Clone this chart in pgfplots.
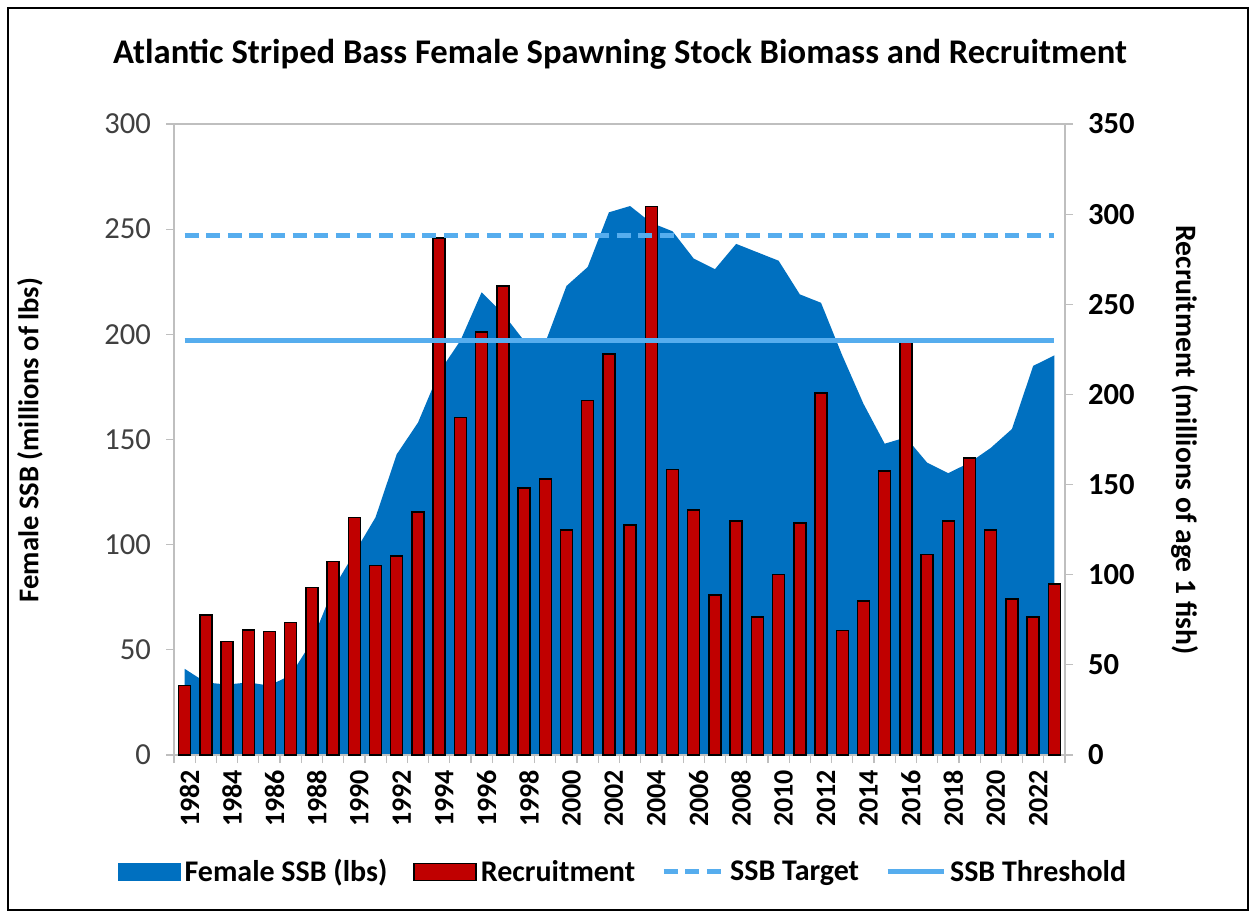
\documentclass[border=0pt]{standalone}
\usepackage{fontspec}
\setmainfont{Carlito}
\usepackage{pgfplots}
\pgfplotsset{compat=1.18}
\usepackage{pgfplotstable}

\definecolor{ssbblue}{RGB}{0,112,192}
\definecolor{recred}{RGB}{192,0,0}
\definecolor{linblue}{RGB}{86,173,238}
\definecolor{axgray}{RGB}{191,191,191}
\definecolor{labgray}{RGB}{64,64,64}

\pgfplotstableread{
year ssb rec
1982 41 38.6
1983 34.5 77.7
1984 33.5 63.0
1985 34.5 69.3
1986 33 68.4
1987 38 73.5
1988 54 93.0
1989 79 107.2
1990 96 131.8
1991 113 105.1
1992 143 110.3
1993 158 134.9
1994 182 286.8
1995 197 187.3
1996 220 234.6
1997 210 260.1
1998 197 148.2
1999 196 153.1
2000 223 124.8
2001 232 196.7
2002 258 222.4
2003 261 127.6
2004 253 304.4
2005 249 158.5
2006 236 135.8
2007 231 88.7
2008 243 129.9
2009 239 76.6
2010 235 100.0
2011 219 128.8
2012 215 200.7
2013 190 69.1
2014 167 85.5
2015 148 157.6
2016 151 229.9
2017 139 111.2
2018 134 129.9
2019 139 164.8
2020 146 124.8
2021 155 86.6
2022 185 76.6
2023 190 94.8
}\data

\pgfplotsset{base/.style={
  at={(87pt,81.5pt)}, anchor=south west, scale only axis,
  width=445.5pt, height=315.5pt,
  xmin=1981.5, xmax=2023.5,
  axis line style={axgray, line width=0.6pt},
  tick style={axgray, line width=0.6pt},
  tick align=outside, major tick length=4pt,
  /pgf/number format/assume math mode=true,
  /pgf/number format/1000 sep={},
}}

\begin{document}
\begin{tikzpicture}
\useasboundingbox (0,0) rectangle (628pt,459pt);
\draw[black, line width=0.6pt] (4pt,4pt) rectangle (624pt,455pt);

% left axis: SSB area
\begin{axis}[base,
  ymin=0, ymax=300, ytick={0,50,...,300}, ytick pos=left,
  xtick={1982,1984,...,2022}, xtick style={draw=none},
  x tick label style={rotate=90, anchor=east, font=\bfseries\fontsize{14}{16}\selectfont, text=black, yshift=-2.5pt},
  y tick label style={font=\fontsize{15.3}{18}\selectfont, text=labgray, xshift=-4pt},
]
\addplot[fill=ssbblue, draw=none] table[x=year, y=ssb] {\data} \closedcycle;
\end{axis}

% right axis: recruitment bars
\begin{axis}[base,
  ymin=0, ymax=350, ytick={0,50,...,350},
  axis y line*=right, axis x line*=bottom,
  xtick={1981.5,1982.5,...,2023.5}, xticklabels={},
  y tick label style={font=\bfseries\fontsize{15.3}{18}\selectfont, text=black, xshift=4pt},
]
\addplot[ybar, bar width=6pt, fill=recred, draw=black, line width=0.7pt] table[x=year, y=rec] {\data};
\end{axis}

% reference lines and legend
\begin{axis}[base,
  ymin=0, ymax=300, axis lines=none,
  legend columns=-1, legend cell align=left,
  legend style={at={(0.505,-0.1854)}, anchor=center, draw=none, fill=none,
    font=\bfseries\fontsize{15}{18}\selectfont,
    /tikz/every even column/.append style={column sep=11pt}},
]
\addlegendimage{legend image code/.code={\fill[ssbblue] (0pt,-4.25pt) rectangle (31pt,4.25pt);}}
\addlegendentry{Female SSB (lbs)}
\addlegendimage{legend image code/.code={\filldraw[fill=recred, draw=black, line width=0.7pt] (0pt,-4.25pt) rectangle (31pt,4.25pt);}}
\addlegendentry{Recruitment}
\addplot[linblue, line width=2.5pt, dash pattern=on 7pt off 3.8pt,
  legend image code/.code={\draw[linblue, line width=2.5pt, dash pattern=on 7pt off 3.8pt] (0pt,0pt) -- (30pt,0pt);}]
  coordinates {(1982,247) (2023,247)};
\addlegendentry{SSB Target}
\addplot[linblue, line width=2.5pt,
  legend image code/.code={\draw[linblue, line width=2.5pt] (0pt,0pt) -- (28pt,0pt);}]
  coordinates {(1982,197) (2023,197)};
\addlegendentry{SSB Threshold}
\end{axis}

\node[font=\bfseries\fontsize{17.3}{20}\selectfont] at (310pt,432pt) {Atlantic Striped Bass Female Spawning Stock Biomass and Recruitment};
\node[rotate=90, font=\bfseries\fontsize{14.3}{17}\selectfont] at (15pt,239pt) {Female SSB (millions of lbs)};
\node[rotate=-90, font=\bfseries\fontsize{14.8}{17}\selectfont] at (592.5pt,239pt) {Recruitment (millions of age 1 fish)};
\end{tikzpicture}
\end{document}
